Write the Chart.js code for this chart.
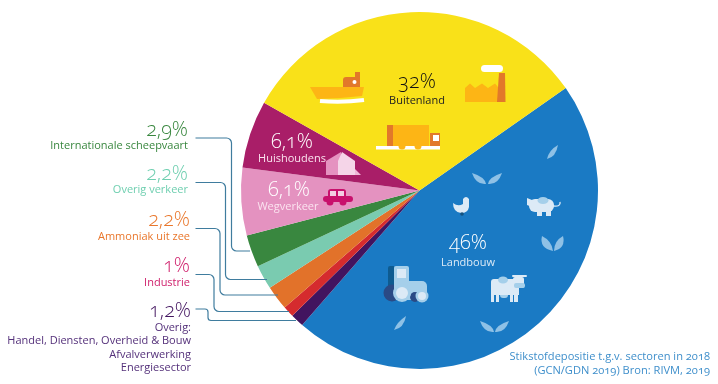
<!DOCTYPE html>
<html>
<head>
<meta charset="utf-8">
<script src="https://cdn.jsdelivr.net/npm/chart.js@4"></script>
<style>
    html, body { margin: 0; padding: 0; background: #fff; }
    #wrap { position: relative; width: 718px; height: 384px; overflow: hidden; font-family: "Open Sans", Lato, sans-serif; font-variant-numeric: oldstyle-nums; font-feature-settings: "onum" 1; }
    canvas { position: absolute; left: 0; top: 0; }
    .t { position: absolute; white-space: nowrap; line-height: 1; transform: translateY(-50%); }
</style>
</head>
<body>
<div id="wrap"><canvas id="pie" width="718" height="384"></canvas></div>
<script>
// sectors, clockwise starting at Landbouw
const categories = ['Landbouw', 'Overig', 'Industrie', 'Ammoniak uit zee', 'Overig verkeer', 'Internationale scheepvaart', 'Wegverkeer', 'Huishoudens', 'Buitenland'];
const shares = [46, 1.2, 1, 2.2, 2.2, 2.9, 6.1, 6.1, 32];
const sliceColors = ['#1a7ac4', '#42145f', '#d52b2e', '#e2722a', '#7acbb0', '#39873f', '#e492c0', '#a91e68', '#f9e119'];
const overigLines = ['Overig:', 'Handel, Diensten, Overheid & Bouw', 'Afvalverwerking', 'Energiesector'];
const sourceLines = ['Stikstofdepositie t.g.v. sectoren in 2018', '(GCN/GDN 2019) Bron: RIVM, 2019'];

function pct(v) {
    return String(v).replace('.', ',') + '%';
}

// leader lines: [y start, x of the bend, y end, x end]
const leaders = [
    [138, 231.5, 251, 250],
    [182.5, 225.5, 279.5, 267],
    [228.5, 220, 295, 278],
    [274.5, 214, 311.5, 289],
    [309, 208, 320.5, 296]
];

function leaf(ctx, pts) {
    ctx.beginPath();
    ctx.moveTo(pts[0], pts[1]);
    ctx.quadraticCurveTo(pts[2], pts[3], pts[4], pts[5]);
    ctx.quadraticCurveTo(pts[6], pts[7], pts[0], pts[1]);
    ctx.fill();
}

function poly(ctx, color, pts) {
    ctx.fillStyle = color;
    ctx.beginPath();
    ctx.moveTo(pts[0], pts[1]);
    for (let i = 2; i < pts.length; i += 2) {
        ctx.lineTo(pts[i], pts[i + 1]);
    }
    ctx.closePath();
    ctx.fill();
}

function box(ctx, color, x, y, w, h, r) {
    ctx.fillStyle = color;
    ctx.beginPath();
    ctx.roundRect(x, y, w, h, r || 0);
    ctx.fill();
}

function dot(ctx, color, x, y, r) {
    ctx.fillStyle = color;
    ctx.beginPath();
    ctx.arc(x, y, r, 0, Math.PI * 2);
    ctx.fill();
}

function drawYellowIcons(ctx) {
    const light = '#fdb515', dark = '#e2782a';
    // ship
    box(ctx, dark, 343, 77, 17, 10, [3, 0, 0, 0]);
    box(ctx, dark, 355, 72, 5, 6);
    dot(ctx, '#fff', 354.5, 82, 2);
    poly(ctx, light, [310, 87, 364, 87, 362, 96, 340, 98, 317, 99]);
    ctx.strokeStyle = '#fff';
    ctx.lineWidth = 4;
    ctx.beginPath();
    ctx.moveTo(320, 101);
    ctx.quadraticCurveTo(342, 103, 364, 100);
    ctx.stroke();
    // truck
    box(ctx, dark, 387, 125, 6, 21);
    box(ctx, light, 393, 125, 36, 21);
    box(ctx, dark, 430, 133, 10, 13);
    box(ctx, '#fff', 433, 135, 6, 6);
    box(ctx, '#fff', 376, 146, 64, 3.5);
    dot(ctx, light, 402, 146, 3.5);
    dot(ctx, light, 418, 146, 3.5);
    // factory
    poly(ctx, light, [465, 88, 470, 83.5, 475, 88, 482, 83.5, 488, 88, 495, 83.5, 498, 87, 498, 102, 465, 102]);
    poly(ctx, dark, [499, 73, 505, 73, 505.5, 102, 497, 102]);
    box(ctx, '#fff', 481, 65, 22, 7, 3.5);
}

function drawPinkIcons(ctx) {
    // house
    poly(ctx, '#f0b8d8', [355, 169, 361, 175, 355, 175]);
    poly(ctx, '#e592c0', [326, 161, 341, 152, 342, 175, 326, 175]);
    poly(ctx, '#f5d5e8', [338, 161, 342, 152, 355, 161, 355, 175, 338, 175]);
    // car
    box(ctx, '#c8106c', 328, 189, 18, 9, [3, 3, 0, 0]);
    box(ctx, '#c8106c', 323, 196, 30, 6, 3);
    box(ctx, '#f3cde3', 330, 191, 6, 5);
    box(ctx, '#f3cde3', 338, 191, 6, 5);
    dot(ctx, '#c8106c', 330, 202, 3.5);
    dot(ctx, '#c8106c', 343, 202, 3.5);
}

function drawBlueIcons(ctx) {
    const pale = '#dceaf6', mid = '#a5cfea', leafColor = '#8fc1e6';
    // leaves
    ctx.fillStyle = leafColor;
    [
        [558, 145, 549, 150, 547, 159, 556, 157],
        [472, 173, 476, 185, 486, 184, 485, 177],
        [502, 173, 489, 177, 488, 184, 498, 185],
        [542, 236, 539, 248, 553, 251, 552, 241],
        [563, 236, 554, 241, 554, 251, 566, 248],
        [480, 321, 484, 333, 494, 332, 493, 325],
        [509, 321, 496, 325, 495, 332, 505, 333],
        [406, 316, 397, 322, 394, 330, 404, 328]
    ].forEach(p => leaf(ctx, p));

    // chicken
    ctx.fillStyle = pale;
    ctx.beginPath();
    ctx.moveTo(453, 203);
    ctx.quadraticCurveTo(458, 207, 463, 204);
    ctx.lineTo(463, 199);
    ctx.quadraticCurveTo(466, 195, 469, 199);
    ctx.lineTo(469, 207);
    ctx.quadraticCurveTo(468, 213, 461, 213);
    ctx.quadraticCurveTo(453, 212, 453, 203);
    ctx.fill();
    dot(ctx, '#14527f', 462, 214, 1.8);

    // pig
    box(ctx, pale, 529, 199, 25, 13, 6);
    poly(ctx, pale, [527, 198, 532, 200, 532, 207, 527, 205]);
    box(ctx, pale, 537, 210, 5, 6);
    box(ctx, pale, 546, 210, 5, 6);
    ctx.fillStyle = mid;
    ctx.beginPath();
    ctx.ellipse(543, 200.5, 5.5, 3.5, 0, 0, Math.PI * 2);
    ctx.fill();
    ctx.strokeStyle = pale;
    ctx.lineWidth = 1.4;
    ctx.beginPath();
    ctx.moveTo(553, 206);
    ctx.quadraticCurveTo(561, 207, 560, 202);
    ctx.stroke();

    // cow
    box(ctx, pale, 491, 279, 28, 16, [3, 0, 0, 0]);
    box(ctx, pale, 491, 295, 3, 7);
    box(ctx, pale, 496, 295, 3, 7);
    box(ctx, pale, 510, 295, 3, 7);
    box(ctx, pale, 514, 295, 4, 7);
    box(ctx, mid, 500, 295, 8, 3, [0, 0, 3, 3]);
    box(ctx, pale, 513, 277, 11, 11, 2);
    box(ctx, mid, 514, 283, 11, 5, 2);
    box(ctx, pale, 512, 275, 15, 2, 1);
    ctx.fillStyle = mid;
    ctx.beginPath();
    ctx.ellipse(503, 280, 5, 3.5, 0, 0, Math.PI * 2);
    ctx.fill();

    // tractor
    box(ctx, '#0e5b90', 388, 266, 6, 22, [2, 0, 0, 0]);
    dot(ctx, '#2a4a85', 392, 293, 8.5);
    box(ctx, mid, 394, 266, 15, 18, 2);
    box(ctx, pale, 397, 269, 9, 9);
    box(ctx, mid, 394, 281, 33, 19, [0, 5, 6, 6]);
    dot(ctx, '#2a4a85', 415, 297, 5);
    dot(ctx, mid, 402, 293, 9);
    dot(ctx, pale, 402, 293, 6);
    dot(ctx, mid, 422, 296, 6.5);
    dot(ctx, pale, 422, 296, 4);
}

const decoration = {
    id: 'decoration',
    afterDatasetsDraw(chart) {
        const ctx = chart.ctx;
        ctx.save();
        // leader lines first, the pie edge is where they stop
        ctx.strokeStyle = '#3f7c9e';
        ctx.lineWidth = 1.2;
        leaders.forEach((l, i) => {
            ctx.beginPath();
            ctx.moveTo(195.5, l[0]);
            ctx.arcTo(l[1], l[0], l[1], l[2], i === 4 ? 3 : 5);
            ctx.arcTo(l[1], l[2], l[3], l[2], i === 4 ? 3 : 5);
            ctx.lineTo(l[3], l[2]);
            ctx.stroke();
        });
        drawYellowIcons(ctx);
        drawPinkIcons(ctx);
        drawBlueIcons(ctx);
        ctx.restore();
    }
};

new Chart(document.getElementById('pie').getContext('2d'), {
    type: 'pie',
    data: {
        labels: categories,
        datasets: [{
            data: shares,
            backgroundColor: sliceColors,
            borderWidth: 0,
            hoverBorderWidth: 0,
            hoverOffset: 0
        }]
    },
    options: {
        responsive: false,
        animation: false,
        rotation: 55,
        radius: 178.5,
        layout: { padding: { left: 241, right: 120, top: 12, bottom: 15 } },
        plugins: {
            legend: { display: false },
            tooltip: { enabled: false }
        }
    },
    plugins: [decoration]
});

// all text sits on top of the canvas as html
function addText(str, x, y, size, color, align) {
    const el = document.createElement('div');
    el.className = 't';
    el.textContent = str;
    el.style.top = y + 'px';
    el.style.fontSize = size + 'px';
    el.style.color = color;
    if (align === 'right') {
        el.style.right = (718 - x) + 'px';
    } else {
        el.style.left = x + 'px';
        el.style.transform = 'translate(-50%, -50%)';
    }
    if (size > 15) el.style.fontWeight = 300;
    document.getElementById('wrap').appendChild(el);
}

const BIG = 20, SMALL = 11;
addText(pct(shares[8]), 417, 81, BIG, '#111', 'center');
addText(categories[8], 417, 99, SMALL, '#222', 'center');
addText(pct(shares[7]), 292, 141, BIG, '#fff', 'center');
addText(categories[7], 292, 157, SMALL, '#fbe3ef', 'center');
addText(pct(shares[6]), 289, 189, BIG, '#fff', 'center');
addText(categories[6], 288, 205, SMALL, '#fbe3ef', 'center');
addText(pct(shares[0]), 468, 242, BIG, '#fff', 'center');
addText(categories[0], 468, 261, SMALL, '#dceaf6', 'center');

addText(pct(shares[5]), 188, 129, BIG, '#39873f', 'right');
addText(categories[5], 188, 144, SMALL, '#39873f', 'right');
addText(pct(shares[4]), 188, 173, BIG, '#6fcfb0', 'right');
addText(categories[4], 188, 188, SMALL, '#6fcfb0', 'right');
addText(pct(shares[3]), 190, 219, BIG, '#e9772c', 'right');
addText(categories[3], 190, 235, SMALL, '#e9772c', 'right');
addText(pct(shares[2]), 190, 265, BIG, '#cf1f6b', 'right');
addText(categories[2], 190, 281, SMALL, '#cf1f6b', 'right');
addText(pct(shares[1]), 191, 310, BIG, '#42145f', 'right');
overigLines.forEach((line, i) => addText(line, 191, [326, 339, 353, 366][i], SMALL, '#54307a', 'right'));
sourceLines.forEach((line, i) => addText(line, 710, 356 + i * 14, 11.1, '#3f8fcb', 'right'));
</script>
</body>
</html>
